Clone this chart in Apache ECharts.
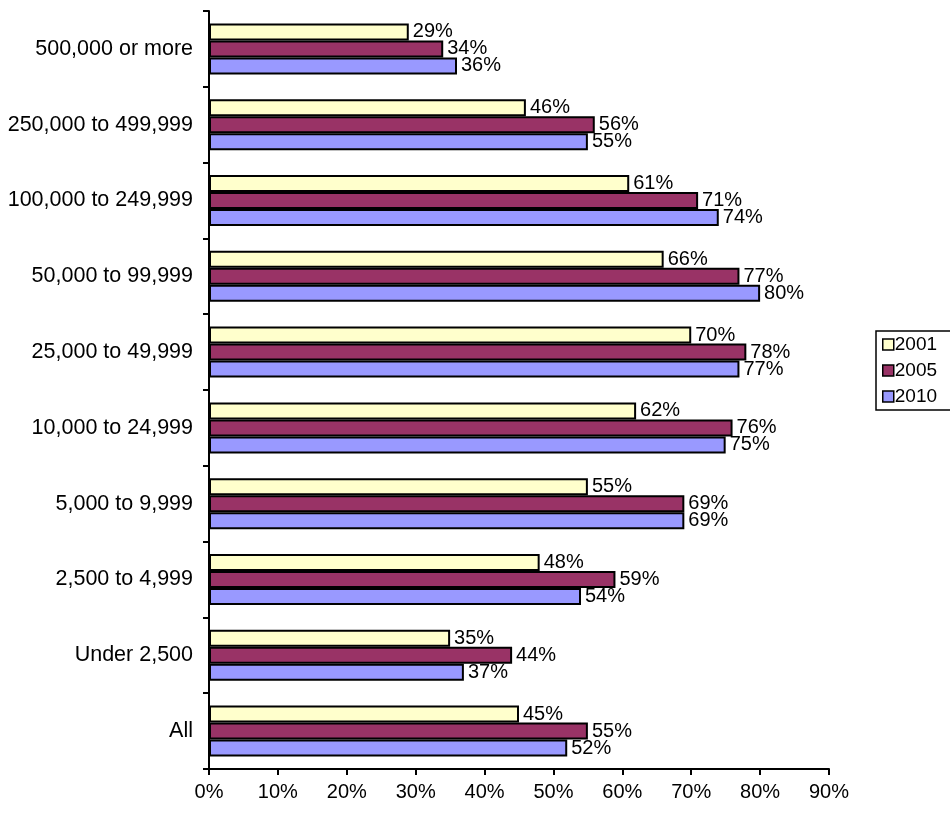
<!DOCTYPE html>
<html>
<head>
<meta charset="utf-8">
<script src="https://cdn.jsdelivr.net/npm/echarts@6/dist/echarts.min.js"></script>
<style>
html,body{margin:0;padding:0;background:#fff;}
#chart{width:950px;height:813px;}
</style>
</head>
<body>
<div id="chart"></div>
<script>
var categories = ['All', 'Under 2,500', '2,500 to 4,999', '5,000 to 9,999', '10,000 to 24,999',
  '25,000 to 49,999', '50,000 to 99,999', '100,000 to 249,999', '250,000 to 499,999', '500,000 or more'];
var years = ['2001', '2005', '2010'];
var v2001 = [45, 35, 48, 55, 62, 70, 66, 61, 46, 29];
var v2005 = [55, 44, 59, 69, 76, 78, 77, 71, 56, 34];
var v2010 = [52, 37, 54, 69, 75, 77, 80, 74, 55, 36];
var xTicks = [0, 10, 20, 30, 40, 50, 60, 70, 80, 90];

var colors = {'2001': '#FFFFCC', '2005': '#993366', '2010': '#9999FF'};
var values = {'2001': v2001, '2005': v2005, '2010': v2010};
var font = 'Liberation Sans, Arial, sans-serif';

var myChart = echarts.init(document.getElementById('chart'));

function makeSeries(name) {
  return {
    name: name,
    type: 'bar',
    data: values[name],
    barWidth: 17,
    barGap: '0%',
    barCategoryGap: '33%',
    itemStyle: {color: colors[name], borderColor: '#000', borderWidth: 2},
    label: {
      show: true,
      position: 'right',
      distance: 4,
      formatter: '{c}%',
      color: '#000',
      fontFamily: font,
      fontSize: 20
    }
  };
}

var option = {
  animation: false,
  backgroundColor: '#fff',
  grid: {left: 209, right: 121, top: 11, bottom: 44, containLabel: false},
  legend: {
    data: years,
    orient: 'vertical',
    left: 876,
    top: 331,
    borderColor: '#000',
    borderWidth: 1.5,
    borderRadius: 0,
    padding: [4, 30, 4, 6],
    itemGap: 7,
    itemWidth: 11,
    itemHeight: 11,
    icon: 'rect',
    itemStyle: {borderColor: '#000', borderWidth: 1.5},
    textStyle: {color: '#000', fontFamily: font, fontSize: 19, padding: [0, 0, 0, -4]}
  },
  xAxis: {
    type: 'value',
    min: xTicks[0],
    max: xTicks[xTicks.length - 1],
    interval: 10,
    splitLine: {show: false},
    axisLine: {show: true, lineStyle: {color: '#000', width: 2}},
    axisTick: {show: true, length: 6, lineStyle: {color: '#000', width: 2}},
    axisLabel: {formatter: '{value}%', color: '#000', fontFamily: font, fontSize: 20, margin: 13}
  },
  yAxis: {
    type: 'category',
    data: categories,
    axisLine: {show: true, lineStyle: {color: '#000', width: 2}},
    axisTick: {show: true, length: 6, lineStyle: {color: '#000', width: 2}},
    axisLabel: {color: '#000', fontFamily: font, fontSize: 21.5, margin: 16}
  },
  series: [makeSeries('2001'), makeSeries('2005'), makeSeries('2010')]
};
myChart.setOption(option);
</script>
</body>
</html>
